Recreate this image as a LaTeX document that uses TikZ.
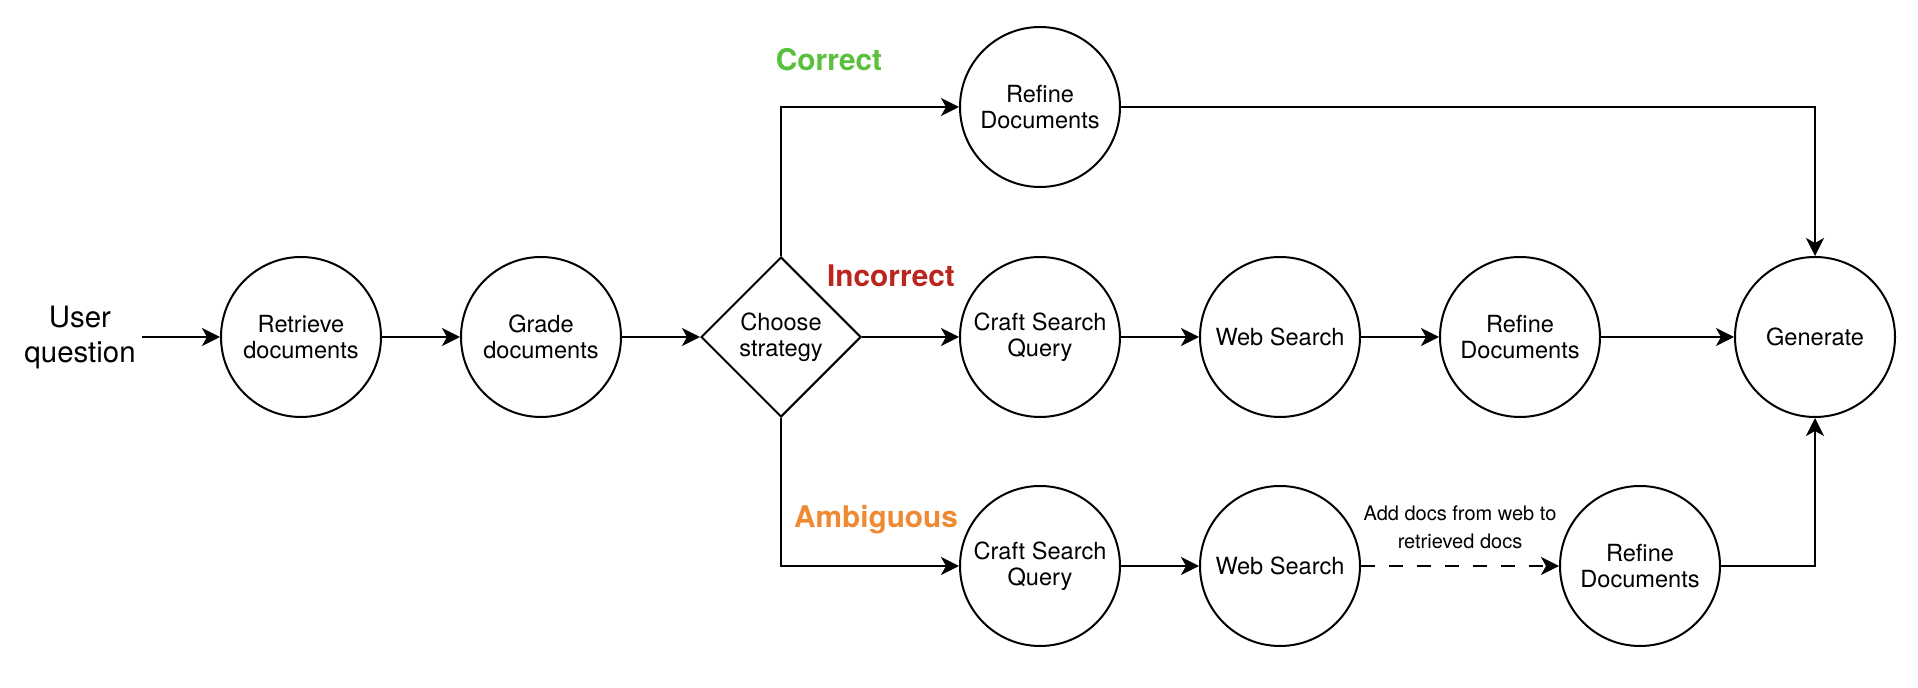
\documentclass[tikz,border=0pt]{standalone}
\usepackage{fontspec}
\setmainfont{TeX Gyre Heros}
\usetikzlibrary{shapes.geometric,arrows.meta}
\definecolor{okgreen}{RGB}{88,192,58}
\definecolor{badred}{RGB}{186,38,30}
\definecolor{ambiorange}{RGB}{240,138,50}
\begin{document}
\begin{tikzpicture}[x=0.5pt,y=-0.5pt,
    stage/.style={circle,draw,line width=1pt,minimum size=80pt,inner sep=0pt,align=center,font=\fontsize{11.8}{13}\selectfont},
    choice/.style={diamond,draw,line width=1pt,minimum width=80pt,minimum height=80pt,inner sep=0pt,align=center,font=\fontsize{11.8}{13}\selectfont},
    flow/.style={line width=1pt,-{Stealth[length=9pt,width=9pt,inset=2.5pt]}},
    verdict/.style={anchor=base,font=\fontsize{14.9}{17}\selectfont\bfseries}]
    \useasboundingbox (0,0) rectangle (1918,688);
    %Nodes%
    \node[align=center,font=\fontsize{14.7}{17.5}\selectfont,inner sep=3pt] (question) at (80,337) {User\\question};
    \node[stage] (retrieve) at (301,337) {Retrieve\\documents};
    \node[stage] (grade) at (541,337) {Grade\\documents};
    \node[choice] (choose) at (781,337) {Choose\\strategy};
    \node[stage] (refineA) at (1040,107) {Refine\\Documents};
    \node[stage] (craftB) at (1040,337) {Craft Search\\Query};
    \node[stage] (webB) at (1280,337) {Web Search};
    \node[stage] (refineB) at (1520,337) {Refine\\Documents};
    \node[stage] (generate) at (1815,337) {Generate};
    \node[stage] (craftC) at (1040,566) {Craft Search\\Query};
    \node[stage] (webC) at (1280,566) {Web Search};
    \node[stage] (refineC) at (1640,566) {Refine\\Documents};

    % Strategy labels %
    \node[verdict,text=okgreen] (correct) at (829,71) {Correct};
    \node[verdict,text=badred] (incorrect) at (891,287) {Incorrect};
    \node[verdict,text=ambiorange] (ambiguous) at (876,528) {Ambiguous};

    %Edges%
    \draw[flow] (question) -- (retrieve);
    \draw[flow] (retrieve) -- (grade);
    \draw[flow] (grade) -- (choose);
    \draw[flow] (choose.north) |- (refineA);
    \draw[flow] (choose.east) -- (craftB);
    \draw[flow] (choose.south) |- (craftC);
    \draw[flow] (craftB) -- (webB);
    \draw[flow] (webB) -- (refineB);
    \draw[flow] (refineB) -- (generate);
    \draw[flow] (refineA) -| (generate);
    \draw[flow] (craftC) -- (webC);
    \draw[flow,dash pattern=on 7pt off 7pt] (webC) -- node[above=5pt,align=center,font=\fontsize{10}{14}\selectfont] {Add docs from web to\\retrieved docs} (refineC);
    \draw[flow] (refineC) -| (generate);
\end{tikzpicture}
\end{document}
